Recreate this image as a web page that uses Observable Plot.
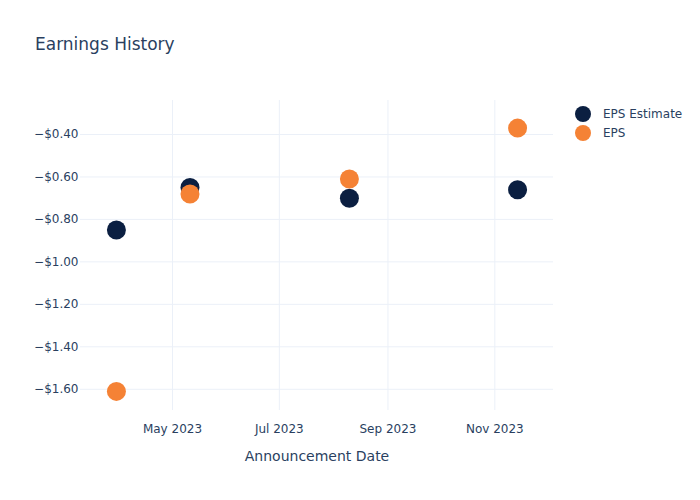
<!DOCTYPE html>
<html>
<head>
<meta charset="utf-8">
<script src="https://cdn.jsdelivr.net/npm/d3@7"></script>
<script src="https://cdn.jsdelivr.net/npm/@observablehq/plot@0.6"></script>
<style>
  html, body { margin: 0; padding: 0; background: #fff; }
  #wrap { position: relative; width: 700px; height: 500px; font-family: "DejaVu Sans", Verdana, sans-serif; color: #2a3f5f; }
  #title { position: absolute; left: 35px; top: 36px; font-size: 17px; line-height: 1; white-space: nowrap; }
  .leg { position: absolute; left: 575px; font-size: 12px; line-height: 1; display: flex; align-items: center; white-space: nowrap; }
  .leg span.sw { display: inline-block; width: 16px; height: 16px; border-radius: 50%; margin-right: 12px; }
</style>
</head>
<body>
<div id="wrap">
  <div id="chart"></div>
  <div id="title">Earnings History</div>
  <div class="leg" style="top:106px"><span class="sw" style="background:#0b1f41"></span>EPS Estimate</div>
  <div class="leg" style="top:125px"><span class="sw" style="background:#f58235"></span>EPS</div>
</div>
<script>
const dates = ["2023-03-30", "2023-05-11", "2023-08-10", "2023-11-14"];
const epsEstimate = [-0.85, -0.65, -0.70, -0.66];
const epsActual = [-1.61, -0.68, -0.61, -0.37];
const xTicks = ["2023-05-01", "2023-07-01", "2023-09-01", "2023-11-01"];
const yTicks = [-1.6, -1.4, -1.2, -1.0, -0.8, -0.6, -0.4];
const seriesNames = ["EPS Estimate", "EPS"];
const seriesColors = ["#0b1f41", "#f58235"];

const rows = [];
dates.forEach((d, i) => rows.push({date: new Date(d), value: epsEstimate[i], series: seriesNames[0]}));
dates.forEach((d, i) => rows.push({date: new Date(d), value: epsActual[i], series: seriesNames[1]}));
const xt = xTicks.map(d => new Date(d));

const chart = Plot.plot({
  width: 700,
  height: 500,
  marginLeft: 80,
  marginRight: 147,
  marginTop: 100,
  marginBottom: 90,
  style: {fontFamily: "DejaVu Sans, Verdana, sans-serif", fontSize: "12px", color: "#2a3f5f", background: "#fff"},
  x: {type: "utc", domain: [new Date("2023-03-09T12:00Z"), new Date("2023-12-04T12:00Z")]},
  y: {domain: [-1.70, -0.24]},
  color: {domain: seriesNames, range: seriesColors},
  marks: [
    Plot.gridX(xt, {stroke: "#ebf0f8", strokeOpacity: 1, strokeWidth: 1}),
    Plot.gridY(yTicks, {stroke: "#ebf0f8", strokeOpacity: 1, strokeWidth: 1}),
    Plot.axisX(xt, {tickSize: 0, tickPadding: 14, tickFormat: d3.utcFormat("%b %Y"), label: null, fill: "#2a3f5f", fontSize: 12}),
    Plot.axisY(yTicks, {tickSize: 0, tickPadding: 2, tickFormat: d => "\u2212$" + Math.abs(d).toFixed(2), label: null, fill: "#2a3f5f", fontSize: 12}),
    Plot.text(["Announcement Date"], {frameAnchor: "bottom", dy: 50, fontSize: 14, fill: "#2a3f5f"}),
    Plot.dot(rows, {x: "date", y: "value", fill: "series", r: 9.5, stroke: "none"})
  ]
});
document.getElementById("chart").appendChild(chart);
</script>
</body>
</html>
